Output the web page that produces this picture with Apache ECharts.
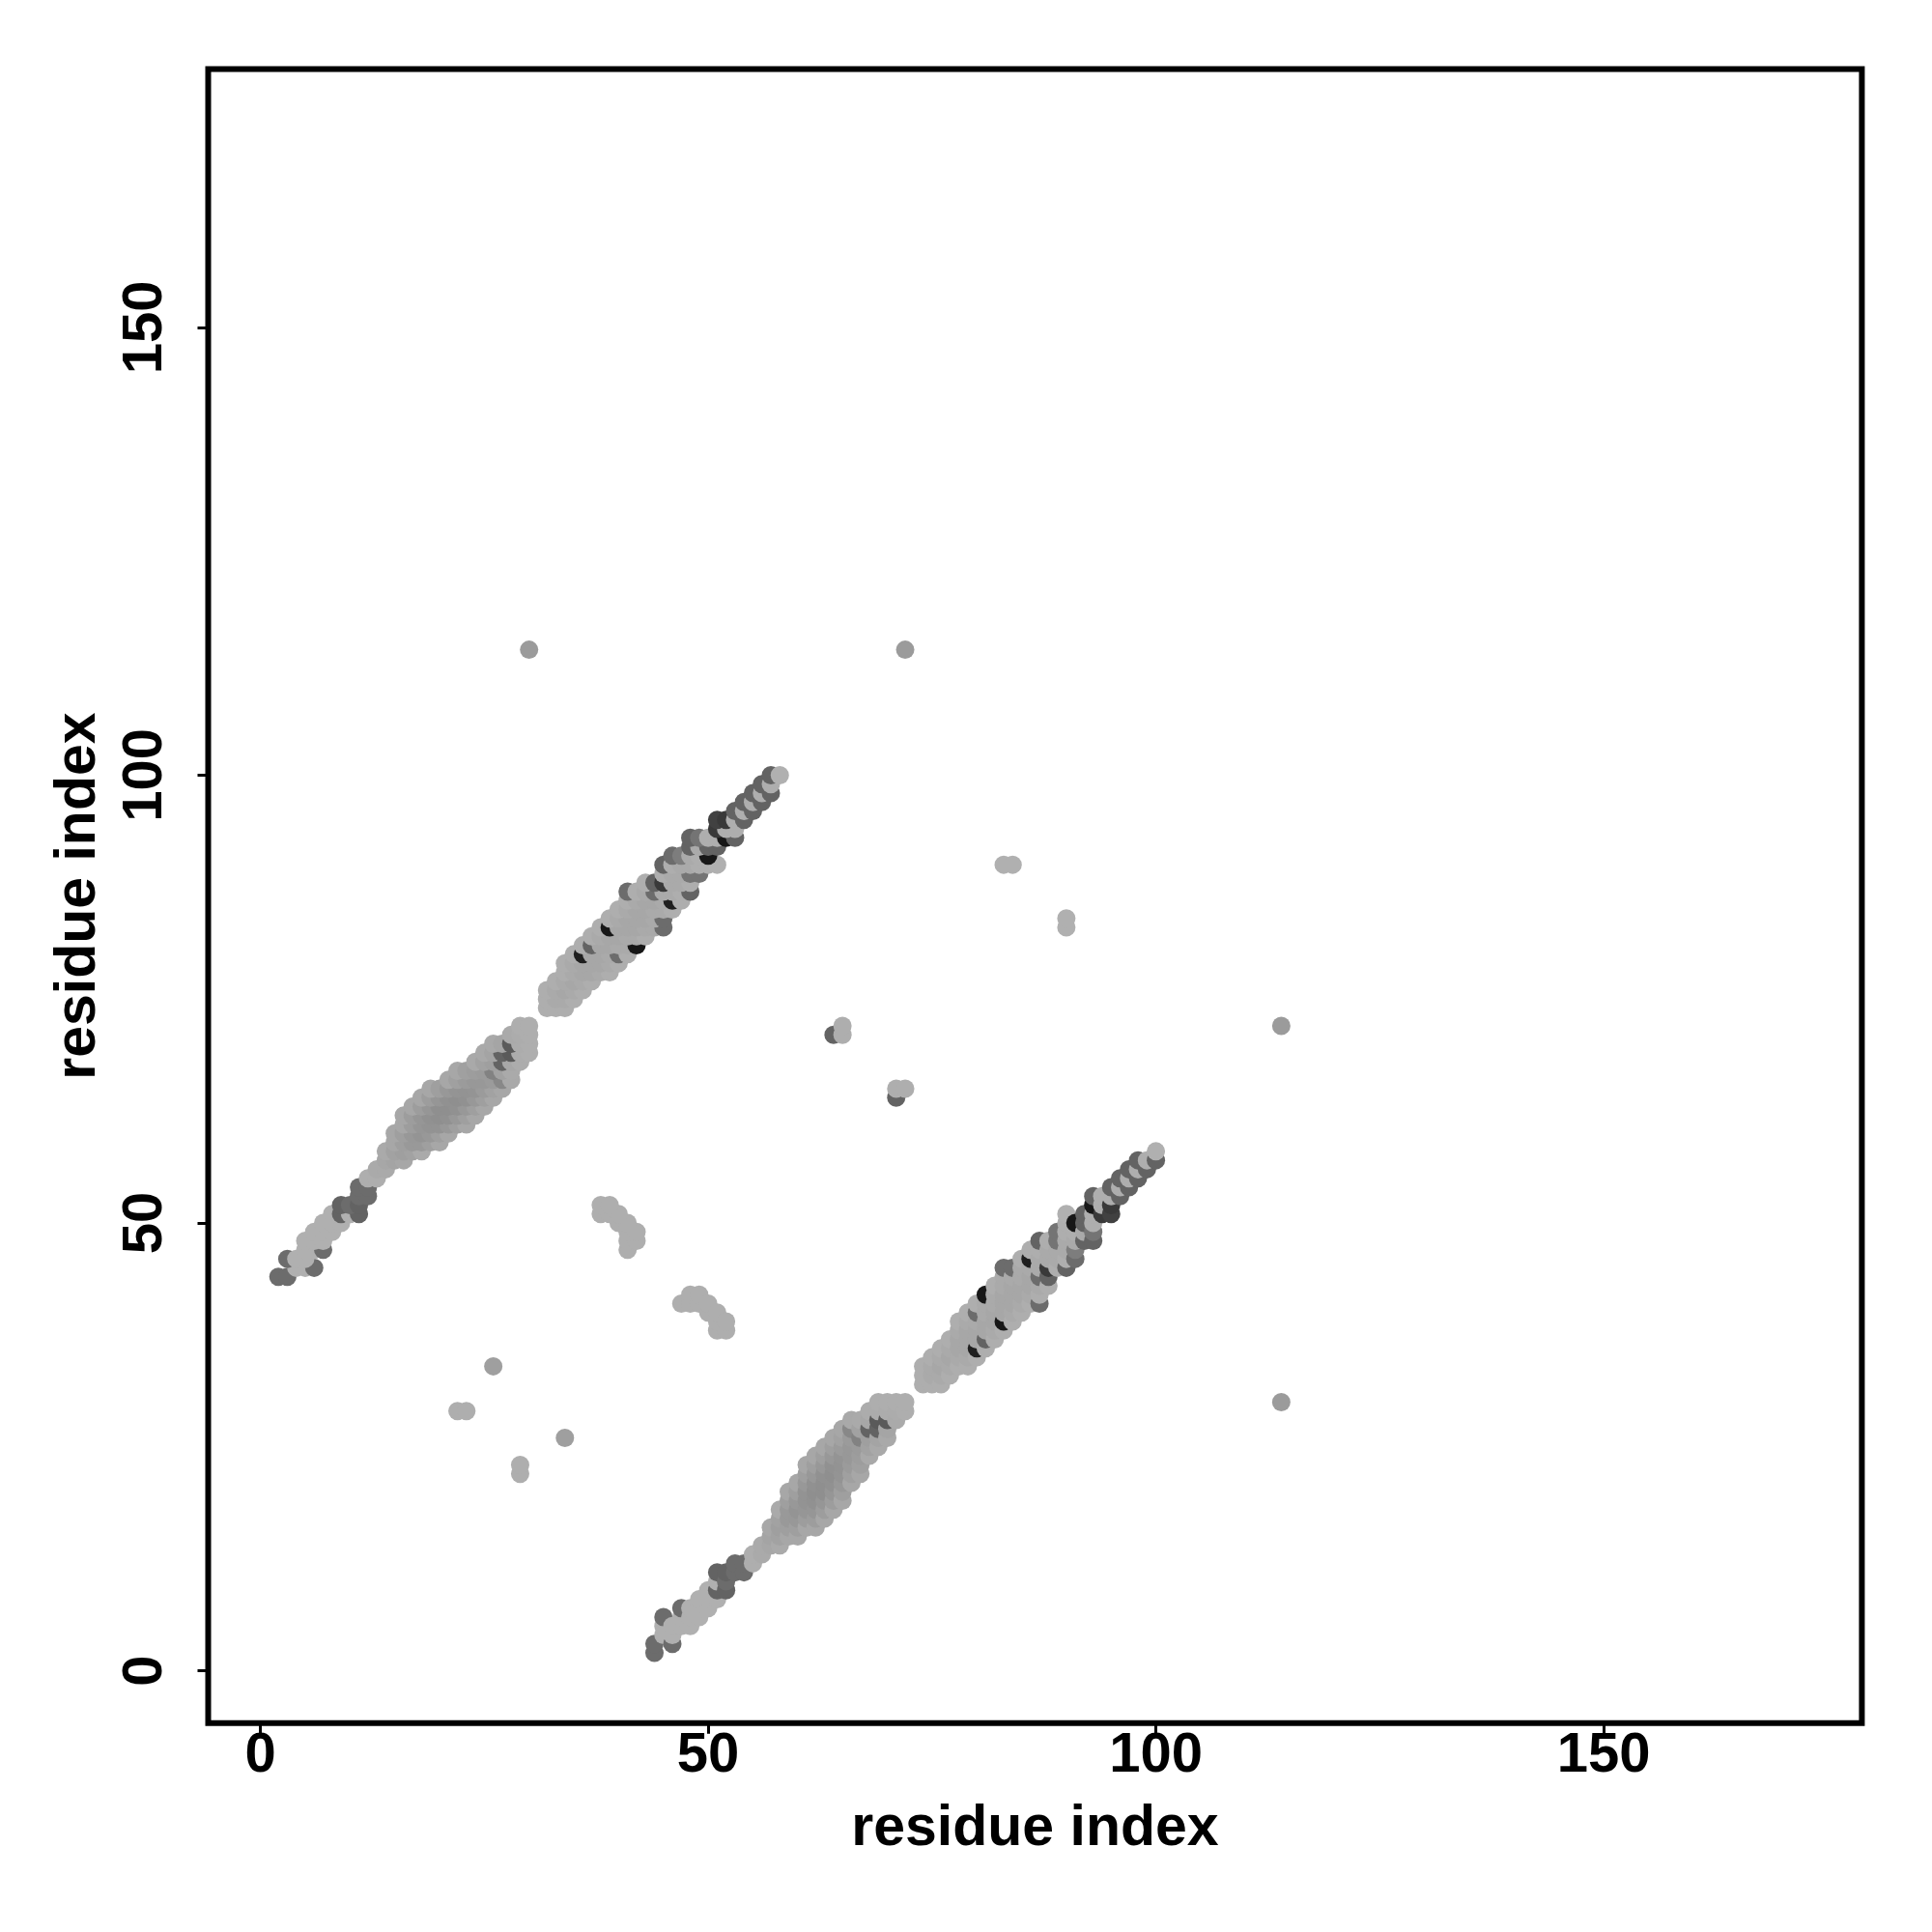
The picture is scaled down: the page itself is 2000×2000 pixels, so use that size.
<!DOCTYPE html>
<html>
<head>
<meta charset="utf-8">
<script src="https://cdn.jsdelivr.net/npm/echarts@6/dist/echarts.min.js"></script>
<style>html,body{margin:0;padding:0;background:#fff;}#main{width:2000px;height:2000px;}</style>
</head>
<body>
<div id="main"></div>
<script>
// Contact map values: [residue i, residue j, contact strength]; listed for i > j, the map is symmetric.
const bandA = [
  [44,2,.45],[44,3,.45],
  [45,4,.05],[45,5,.05],[45,6,.45],
  [46,3,.45],[46,4,.05],[46,5,.05],
  [47,5,.05],[47,6,.05],[47,7,.45],
  [48,5,.05],[48,6,.05],[48,7,.05],
  [49,6,.05],[49,7,.05],[49,8,.05],
  [50,7,.05],[50,8,.05],[50,9,.05],
  [51,8,.05],[51,9,.5],[51,10,.05],[51,11,.5],
  [52,9,.5],[52,10,.45],[52,11,.5],
  [53,11,.45],[53,12,.45],
  [54,11,.45],[54,12,.45]
];
const bandB = [
  [55,12,.06],[55,13,.06],
  [56,13,.08],[56,14,.08],
  [57,14,.1],[57,15,.12],[57,16,.1],
  [58,14,.08],[58,15,.13],[58,16,.15],[58,17,.13],[58,18,.08],
  [59,15,.1],[59,16,.15],[59,17,.18],[59,18,.18],[59,19,.15],[59,20,.1],
  [60,15,.1],[60,16,.15],[60,17,.19],[60,18,.21],[60,19,.19],[60,20,.15],[60,21,.1],
  [61,16,.1],[61,17,.16],[61,18,.2],[61,19,.22],[61,20,.22],[61,21,.19],[61,22,.15],[61,23,.1],
  [62,16,.1],[62,17,.16],[62,18,.2],[62,19,.23],[62,20,.24],[62,21,.23],[62,22,.19],[62,23,.15],[62,24,.1],
  [63,17,.1],[63,18,.16],[63,19,.2],[63,20,.24],[63,21,.24],[63,22,.23],[63,23,.19],[63,24,.15],[63,25,.1],
  [64,18,.1],[64,19,.16],[64,20,.2],[64,21,.23],[64,22,.24],[64,23,.23],[64,24,.19],[64,25,.15],[64,26,.1],
  [65,19,.1],[65,20,.15],[65,21,.19],[65,22,.21],[65,23,.22],[65,24,.21],[65,25,.17],[65,26,.13],[65,27,.1],
  [66,21,.1],[66,22,.14],[66,23,.17],[66,24,.19],[66,25,.19],[66,26,.17],[66,27,.28],[66,28,.09],
  [67,22,.1],[67,23,.14],[67,24,.16],[67,25,.17],[67,26,.32],[67,27,.13],[67,28,.08],
  [68,24,.09],[68,25,.13],[68,26,.15],[68,27,.5],[68,28,.1],[68,29,.07],
  [69,25,.09],[69,26,.12],[69,27,.5],[69,28,.55],[69,29,.07],[69,30,.06],
  [70,26,.09],[70,27,.11],[70,28,.55],[70,29,.07],[70,30,.06],
  [71,28,.08],[71,29,.07],[71,30,.06],
  [72,29,.06],[72,30,.06]
];
const bandC = [
  [74,32,.06],[74,33,.06],[74,34,.06],
  [75,32,.06],[75,33,.08],[75,34,.08],[75,35,.06],
  [76,32,.06],[76,33,.08],[76,34,.1],[76,35,.08],[76,36,.06],
  [77,33,.06],[77,34,.08],[77,35,.1],[77,36,.08],[77,37,.06],
  [78,34,.06],[78,35,.08],[78,36,.1],[78,37,.1],[78,38,.08],[78,39,.06],
  [79,34,.06],[79,35,.08],[79,36,.1],[79,37,.1],[79,38,.1],[79,39,.08],[79,40,.06],
  [80,35,.06],[80,36,.9],[80,37,.1],[80,38,.1],[80,39,.08],[80,40,.45],[80,41,.06],
  [81,36,.06],[81,37,.5],[81,38,.1],[81,39,.1],[81,40,.08],[81,41,.08],[81,42,.95],
  [82,37,.06],[82,38,.08],[82,39,.1],[82,40,.1],[82,41,.08],[82,42,.08],[82,43,.06],
  [83,38,.06],[83,39,.95],[83,40,.1],[83,41,.1],[83,42,.1],[83,43,.08],[83,44,.08],[83,45,.45],
  [84,39,.06],[84,40,.08],[84,41,.1],[84,42,.1],[84,43,.1],[84,44,.08],[84,45,.45],
  [85,40,.06],[85,41,.08],[85,42,.1],[85,43,.1],[85,44,.08],[85,45,.08],[85,46,.06],
  [86,41,.06],[86,42,.08],[86,43,.1],[86,44,.1],[86,45,.08],[86,46,.9],[86,47,.06],
  [87,41,.45],[87,42,.06],[87,43,.08],[87,44,.45],[87,45,.08],[87,46,.08],[87,47,.06],[87,48,.5],
  [88,43,.06],[88,44,.5],[88,45,.75],[88,46,.08],[88,47,.08],[88,48,.06],
  [89,45,.06],[89,46,.08],[89,47,.08],[89,48,.4],[89,49,.4]
];
const bandD = [
  [90,45,.5],[90,46,.06],[90,47,.08],[90,48,.08],[90,49,.06],[90,50,.06],[90,51,.05],
  [91,46,.45],[91,47,.35],[91,48,.08],[91,49,.06],[91,50,.95],
  [92,48,.5],[92,49,.08],[92,50,.5],[92,51,.5],
  [93,48,.5],[93,49,.4],[93,50,.06],[93,51,.06],[93,52,.95],[93,53,.5],
  [94,51,.75],[94,52,.06],[94,53,.06],
  [95,51,.7],[95,52,.75],[95,53,.06],[95,54,.5],
  [96,53,.5],[96,54,.06],[96,55,.5],
  [97,54,.5],[97,55,.06],[97,56,.5],
  [98,55,.5],[98,56,.06],[98,57,.5],
  [99,56,.5],[99,57,.06],
  [100,57,.5],[100,58,.05]
];
const hairpin = [
  [47,41,.06],[48,41,.06],[48,42,.06],[49,41,.06],[49,42,.06],[50,40,.06],
  [50,41,.06],[51,38,.06],[51,39,.06],[51,40,.06],[52,38,.06],[52,39,.06]
];
const isolated = [
  [114,30,.17],[114,72,.17],[34,26,.15],[29,22,.06],[29,23,.06],
  [90,83,.05],[90,84,.05],[71,64,.5],[71,65,.06],[72,65,.06]
];
const xTicks = [0, 50, 100, 150];
const yTicks = [0, 50, 100, 150];
const axisTitle = 'residue index';

const lowerTriangle = [].concat(bandA, bandB, bandC, bandD, hairpin, isolated);
const contacts = lowerTriangle.concat(lowerTriangle.map(function (d) { return [d[1], d[0], d[2]]; }));

const FONT = 'Liberation Sans';
const chart = echarts.init(document.getElementById('main'), null, {renderer: 'canvas', width: 2000, height: 2000});
chart.setOption({
  animation: false,
  backgroundColor: '#ffffff',
  grid: {
    left: 215.5, top: 71.4, right: 72.6, bottom: 216.2,
    show: true, borderColor: '#000', borderWidth: 6, backgroundColor: 'transparent',
    containLabel: false, outerBoundsMode: 'none'
  },
  xAxis: {
    type: 'value', min: -5.84, max: 178.84,
    name: axisTitle, nameLocation: 'middle', nameGap: 80,
    nameTextStyle: {fontFamily: FONT, fontWeight: 'bold', fontSize: 59, color: '#000'},
    axisLine: {show: false, onZero: false},
    axisTick: {show: true, length: 11, lineStyle: {color: '#000', width: 3}, customValues: xTicks},
    axisLabel: {customValues: xTicks, fontFamily: FONT, fontWeight: 'bold', fontSize: 58, color: '#000', margin: 5},
    splitLine: {show: false}
  },
  yAxis: {
    type: 'value', min: -5.84, max: 178.84,
    name: axisTitle, nameLocation: 'middle', nameGap: 104, nameRotate: 90,
    nameTextStyle: {fontFamily: FONT, fontWeight: 'bold', fontSize: 59, color: '#000'},
    axisLine: {show: false, onZero: false},
    axisTick: {show: true, length: 11, lineStyle: {color: '#000', width: 3}, customValues: yTicks},
    axisLabel: {customValues: yTicks, rotate: 90, fontFamily: FONT, fontWeight: 'bold', fontSize: 58, color: '#000', margin: 36},
    splitLine: {show: false}
  },
  visualMap: {
    show: false, type: 'continuous', dimension: 2, min: 0, max: 1,
    inRange: {color: ['#b8b8b8', '#0e0e0e']}
  },
  series: [{
    type: 'scatter', data: contacts, symbol: 'circle', symbolSize: 19,
    itemStyle: {opacity: 1, borderWidth: 0}, silent: true
  }]
});
</script>
</body>
</html>
